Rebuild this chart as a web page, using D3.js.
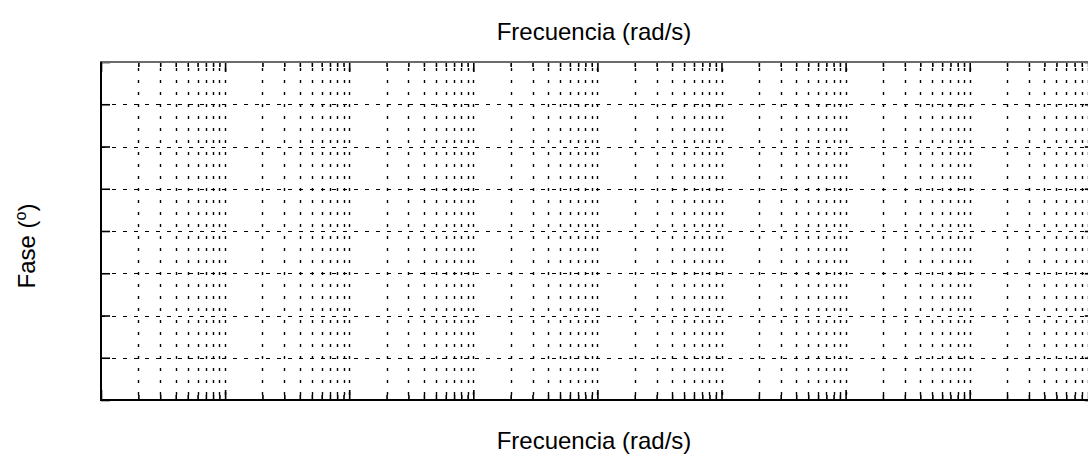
<!DOCTYPE html>
<html>
<head>
<meta charset="utf-8">
<script src="https://cdn.jsdelivr.net/npm/d3@7"></script>
<style>
  html, body { margin: 0; padding: 0; background: #fff; }
  svg { display: block; }
  text { font-family: "Liberation Sans", Arial, Helvetica, sans-serif; fill: #000; }
</style>
</head>
<body>
<svg id="chart" width="1088" height="455"></svg>
<script>
// ---- data ----
const xDomain = [1e-3, 1e5];               // frequency range (rad/s), 8 decades
const decades = [-3, -2, -1, 0, 1, 2, 3, 4]; // decade exponents
const minorMultipliers = [1, 2, 3, 4, 5, 6, 7, 8, 9];
const yDomain = [-360, 0];                 // phase (degrees)
const yTicks = [-360, -315, -270, -225, -180, -135, -90, -45, 0];
const xTitle = "Frecuencia (rad/s)";
const yTitle = "Fase (";

// ---- layout ----
const svg = d3.select("#chart");
const pLeft = 101, pTop = 62, pBottom = 400;
const decadeWidth = 124.1;
const pRight = pLeft + decadeWidth * decades.length;

const x = d3.scaleLog().domain(xDomain).range([pLeft, pRight]);
const y = d3.scaleLinear().domain(yDomain).range([pBottom, pTop]);

const vTicks = [];
decades.forEach(e => minorMultipliers.forEach(m => vTicks.push({v: m * Math.pow(10, e), major: m === 1})));
vTicks.push({v: 1e5, major: true});

// horizontal grid (dashed)
svg.append("g").selectAll("line")
  .data(yTicks.filter(t => t !== yDomain[0] && t !== yDomain[1]))
  .join("line")
  .attr("x1", pLeft).attr("x2", pRight)
  .attr("y1", d => Math.round(y(d)) + 0.5).attr("y2", d => Math.round(y(d)) + 0.5)
  .attr("stroke", "#000").attr("stroke-width", 1.2)
  .attr("stroke-dasharray", "4,7");

// vertical grid (dotted)
svg.append("g").selectAll("line")
  .data(vTicks.filter(d => d.v > xDomain[0] && d.v < xDomain[1]))
  .join("line")
  .attr("x1", d => Math.round(x(d.v)) + 0.5).attr("x2", d => Math.round(x(d.v)) + 0.5)
  .attr("y1", pTop).attr("y2", pBottom)
  .attr("stroke", "#000").attr("stroke-width", 1.4)
  .attr("stroke-dasharray", "3,9")
  .attr("stroke-dashoffset", -6);

// axis ticks via d3 axes
const tickFmt = () => "";
const majorVals = vTicks.filter(d => d.major).map(d => d.v);
const minorVals = vTicks.filter(d => !d.major).map(d => d.v);
const xBottom = d3.axisTop(x).tickValues(majorVals).tickSize(10).tickFormat(tickFmt);
const xBottomMinor = d3.axisTop(x).tickValues(minorVals).tickSize(5).tickFormat(tickFmt);
const xTopAx = d3.axisBottom(x).tickValues(majorVals).tickSize(10).tickFormat(tickFmt);
const xTopMinor = d3.axisBottom(x).tickValues(minorVals).tickSize(5).tickFormat(tickFmt);
const yLeft = d3.axisRight(y).tickValues(yTicks).tickSize(9).tickFormat(tickFmt);
const yRight = d3.axisLeft(y).tickValues(yTicks).tickSize(9).tickFormat(tickFmt);

function styleAxis(g) {
  g.select(".domain").remove();
  g.selectAll(".tick line").attr("stroke", "#000").attr("stroke-width", 1.6);
}
svg.append("g").attr("transform", `translate(0,${pBottom})`).call(xBottom).call(styleAxis);
svg.append("g").attr("transform", `translate(0,${pBottom})`).call(xBottomMinor).call(styleAxis);
svg.append("g").attr("transform", `translate(0,${pTop})`).call(xTopAx).call(styleAxis);
svg.append("g").attr("transform", `translate(0,${pTop})`).call(xTopMinor).call(styleAxis);
svg.append("g").attr("transform", `translate(${pLeft},0)`).call(yLeft).call(styleAxis);
svg.append("g").attr("transform", `translate(${pRight},0)`).call(yRight).call(styleAxis);

// box
svg.append("line").attr("x1", pLeft - 1).attr("x2", pRight).attr("y1", pTop).attr("y2", pTop)
  .attr("stroke", "#6b6b6b").attr("stroke-width", 2);
svg.append("line").attr("x1", pLeft - 1).attr("x2", pRight).attr("y1", pBottom).attr("y2", pBottom)
  .attr("stroke", "#000").attr("stroke-width", 2);
svg.append("line").attr("x1", pLeft).attr("x2", pLeft).attr("y1", pTop).attr("y2", pBottom + 1)
  .attr("stroke", "#000").attr("stroke-width", 2);
svg.append("line").attr("x1", pRight).attr("x2", pRight).attr("y1", pTop).attr("y2", pBottom + 1)
  .attr("stroke", "#000").attr("stroke-width", 2);

// titles
svg.append("text").attr("x", 594).attr("y", 40).attr("text-anchor", "middle")
  .attr("font-size", 24).text(xTitle);
svg.append("text").attr("x", 594).attr("y", 449).attr("text-anchor", "middle")
  .attr("font-size", 24).text(xTitle);
const yt = svg.append("text").attr("transform", `translate(35,246) rotate(-90)`)
  .attr("text-anchor", "middle").attr("font-size", 24);
yt.append("tspan").text(yTitle);
yt.append("tspan").attr("font-size", 16).attr("dy", -9).text("o");
yt.append("tspan").attr("dy", 9).text(")");
</script>
</body>
</html>
